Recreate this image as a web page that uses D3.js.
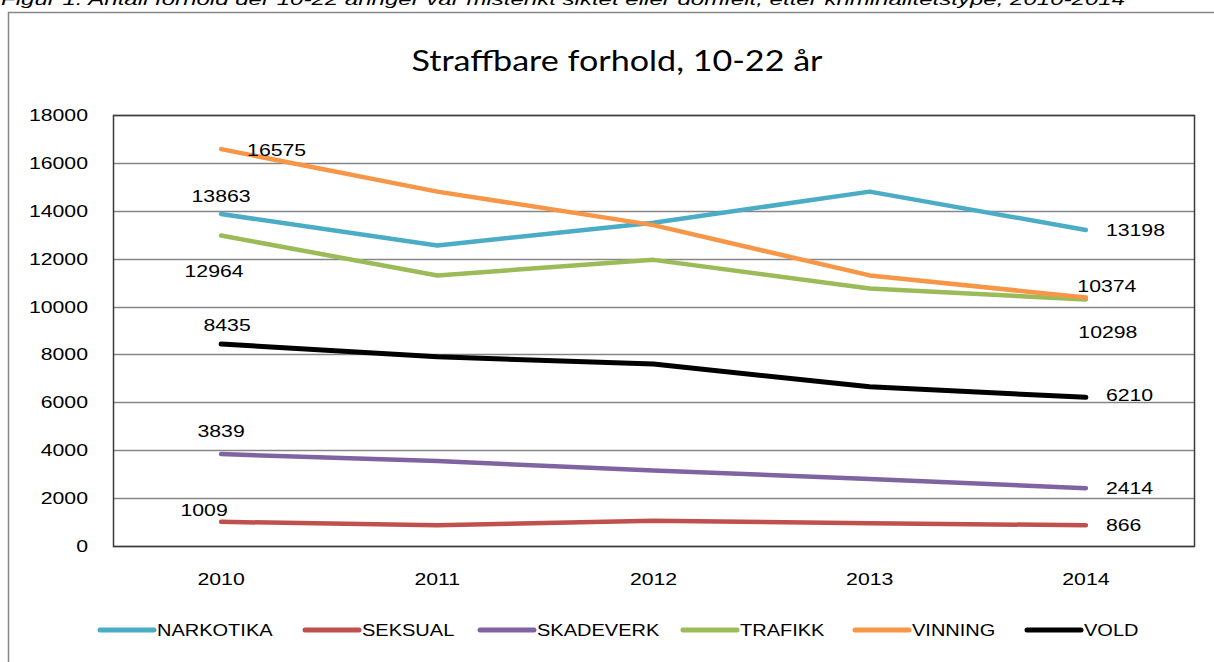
<!DOCTYPE html>
<html>
<head>
<meta charset="utf-8">
<script src="https://cdn.jsdelivr.net/npm/d3@7/dist/d3.min.js"></script>
<style>
  body { margin: 0; background: #fff; overflow: hidden; }
  text { font-family: "Liberation Sans", Arial, sans-serif; fill: #000; }
</style>
</head>
<body>
<div class="chart"></div>
<script>
// data
var years = ["2010", "2011", "2012", "2013", "2014"];
var seriesNames = ["NARKOTIKA", "SEKSUAL", "SKADEVERK", "TRAFIKK", "VINNING", "VOLD"];
var narkotika = [13863, 12550, 13500, 14800, 13198];
var seksual   = [1009, 870, 1050, 950, 866];
var skadeverk = [3839, 3550, 3150, 2800, 2414];
var trafikk   = [12964, 11300, 11950, 10750, 10298];
var vinning   = [16575, 14800, 13400, 11300, 10374];
var vold      = [8435, 7900, 7600, 6650, 6210];
var yTicks = [0, 2000, 4000, 6000, 8000, 10000, 12000, 14000, 16000, 18000];

var titleText = "Straffbare forhold, 10-22 år";
var captionText = "Figur 1: Antall forhold der 10-22 åringer var mistenkt siktet eller domfelt, etter kriminalitetstype, 2010-2014";

// styles
var colors = {
    NARKOTIKA: "#4bacc6", SEKSUAL: "#c0504d", SKADEVERK: "#8064a2",
    TRAFIKK: "#9bbb59", VINNING: "#f79646", VOLD: "#000000"
};
var values = {
    NARKOTIKA: narkotika, SEKSUAL: seksual, SKADEVERK: skadeverk,
    TRAFIKK: trafikk, VINNING: vinning, VOLD: vold
};
// where the first/last point labels sit, relative to the point
var labelPos = {
    NARKOTIKA: [{dx: 0, dy: -18, a: "middle"}, {dx: 20, dy: 0, a: "start"}],
    SEKSUAL:   [{dx: -17, dy: -12, a: "middle"}, {dx: 20, dy: 0, a: "start"}],
    SKADEVERK: [{dx: 0, dy: -23, a: "middle"}, {dx: 20, dy: 0, a: "start"}],
    TRAFIKK:   [{dx: -7, dy: 35, a: "middle"}, {dx: 22, dy: 33, a: "middle"}],
    VINNING:   [{dx: 26, dy: 1, a: "start"}, {dx: 21, dy: -12, a: "middle"}],
    VOLD:      [{dx: 6, dy: -19, a: "middle"}, {dx: 20, dy: -2, a: "start"}]
};

var W = 1214, H = 662;
var plot = {left: 113, right: 1194, top: 115, bottom: 546};
var sx = 1.25; // text in the picture is stretched sideways

var svg = d3.select("div.chart").append("svg")
    .attr("width", W)
    .attr("height", H);

var xScale = d3.scalePoint().domain(years).range([plot.left, plot.right]).padding(0.5);
var yScale = d3.scaleLinear().domain([0, 18000]).range([plot.bottom, plot.top]);

function stretchedText(g, x, y, str, size, anchor) {
    return g.append("text")
        .attr("transform", "translate(" + x + "," + y + ") scale(" + sx + ",1)")
        .attr("text-anchor", anchor)
        .attr("dy", "0.35em")
        .style("font-size", size + "px")
        .text(str);
}

// caption above the frame, cut by the top edge as in the source
svg.append("text")
    .attr("x", 1)
    .attr("y", 5)
    .attr("textLength", 1124)
    .attr("lengthAdjust", "spacingAndGlyphs")
    .style("font-style", "italic")
    .style("font-size", "17px")
    .text(captionText);

// outer chart frame
svg.append("rect")
    .attr("x", 8.5).attr("y", 12.5)
    .attr("width", 1300).attr("height", 700)
    .attr("fill", "#fff")
    .attr("stroke", "#868686")
    .attr("stroke-width", 1.5);

svg.append("text")
    .attr("x", 617)
    .attr("y", 71)
    .attr("text-anchor", "middle")
    .attr("textLength", 411)
    .attr("lengthAdjust", "spacingAndGlyphs")
    .style("font-family", "Lato, 'Open Sans', sans-serif")
    .style("font-size", "29px")
    .text(titleText);

// gridlines
svg.append("g").selectAll("line")
    .data(yTicks)
    .enter().append("line")
    .attr("x1", plot.left).attr("x2", plot.right)
    .attr("y1", function(d) { return Math.round(yScale(d)) + 0.5; })
    .attr("y2", function(d) { return Math.round(yScale(d)) + 0.5; })
    .attr("stroke", "#868686")
    .attr("stroke-width", 1.5);

// plot border
svg.append("rect")
    .attr("x", plot.left + 0.5).attr("y", plot.top + 0.5)
    .attr("width", plot.right - plot.left).attr("height", plot.bottom - plot.top)
    .attr("fill", "none")
    .attr("stroke", "#3a3a3a")
    .attr("stroke-width", 1.5);

// y tick labels
var yg = svg.append("g");
yTicks.forEach(function(t) {
    stretchedText(yg, plot.left - 25, yScale(t), String(t), 17, "end");
});

// x tick labels
var xg = svg.append("g");
years.forEach(function(y) {
    stretchedText(xg, xScale(y), 579, y, 17, "middle");
});

// lines
var line = d3.line()
    .x(function(d, i) { return xScale(years[i]); })
    .y(function(d) { return yScale(d); });

seriesNames.forEach(function(name) {
    svg.append("path")
        .datum(values[name])
        .attr("d", line)
        .attr("fill", "none")
        .attr("stroke", colors[name])
        .attr("stroke-width", name === "VOLD" ? 5 : 4.5)
        .attr("stroke-linecap", "round")
        .attr("stroke-linejoin", "round");
});

// first and last value labels
var lg = svg.append("g");
seriesNames.forEach(function(name) {
    var v = values[name];
    [0, v.length - 1].forEach(function(i, k) {
        var p = labelPos[name][k];
        stretchedText(lg, xScale(years[i]) + p.dx, yScale(v[i]) + p.dy, String(v[i]), 17, p.a);
    });
});

// legend
var legendX = [100, 305, 480, 683, 855, 1027];
var leg = svg.append("g");
seriesNames.forEach(function(name, i) {
    leg.append("line")
        .attr("x1", legendX[i]).attr("x2", legendX[i] + 54)
        .attr("y1", 630).attr("y2", 630)
        .attr("stroke", colors[name])
        .attr("stroke-width", 5)
        .attr("stroke-linecap", "round");
    stretchedText(leg, legendX[i] + 57, 630, name, 16, "start");
});
</script>
</body>
</html>
